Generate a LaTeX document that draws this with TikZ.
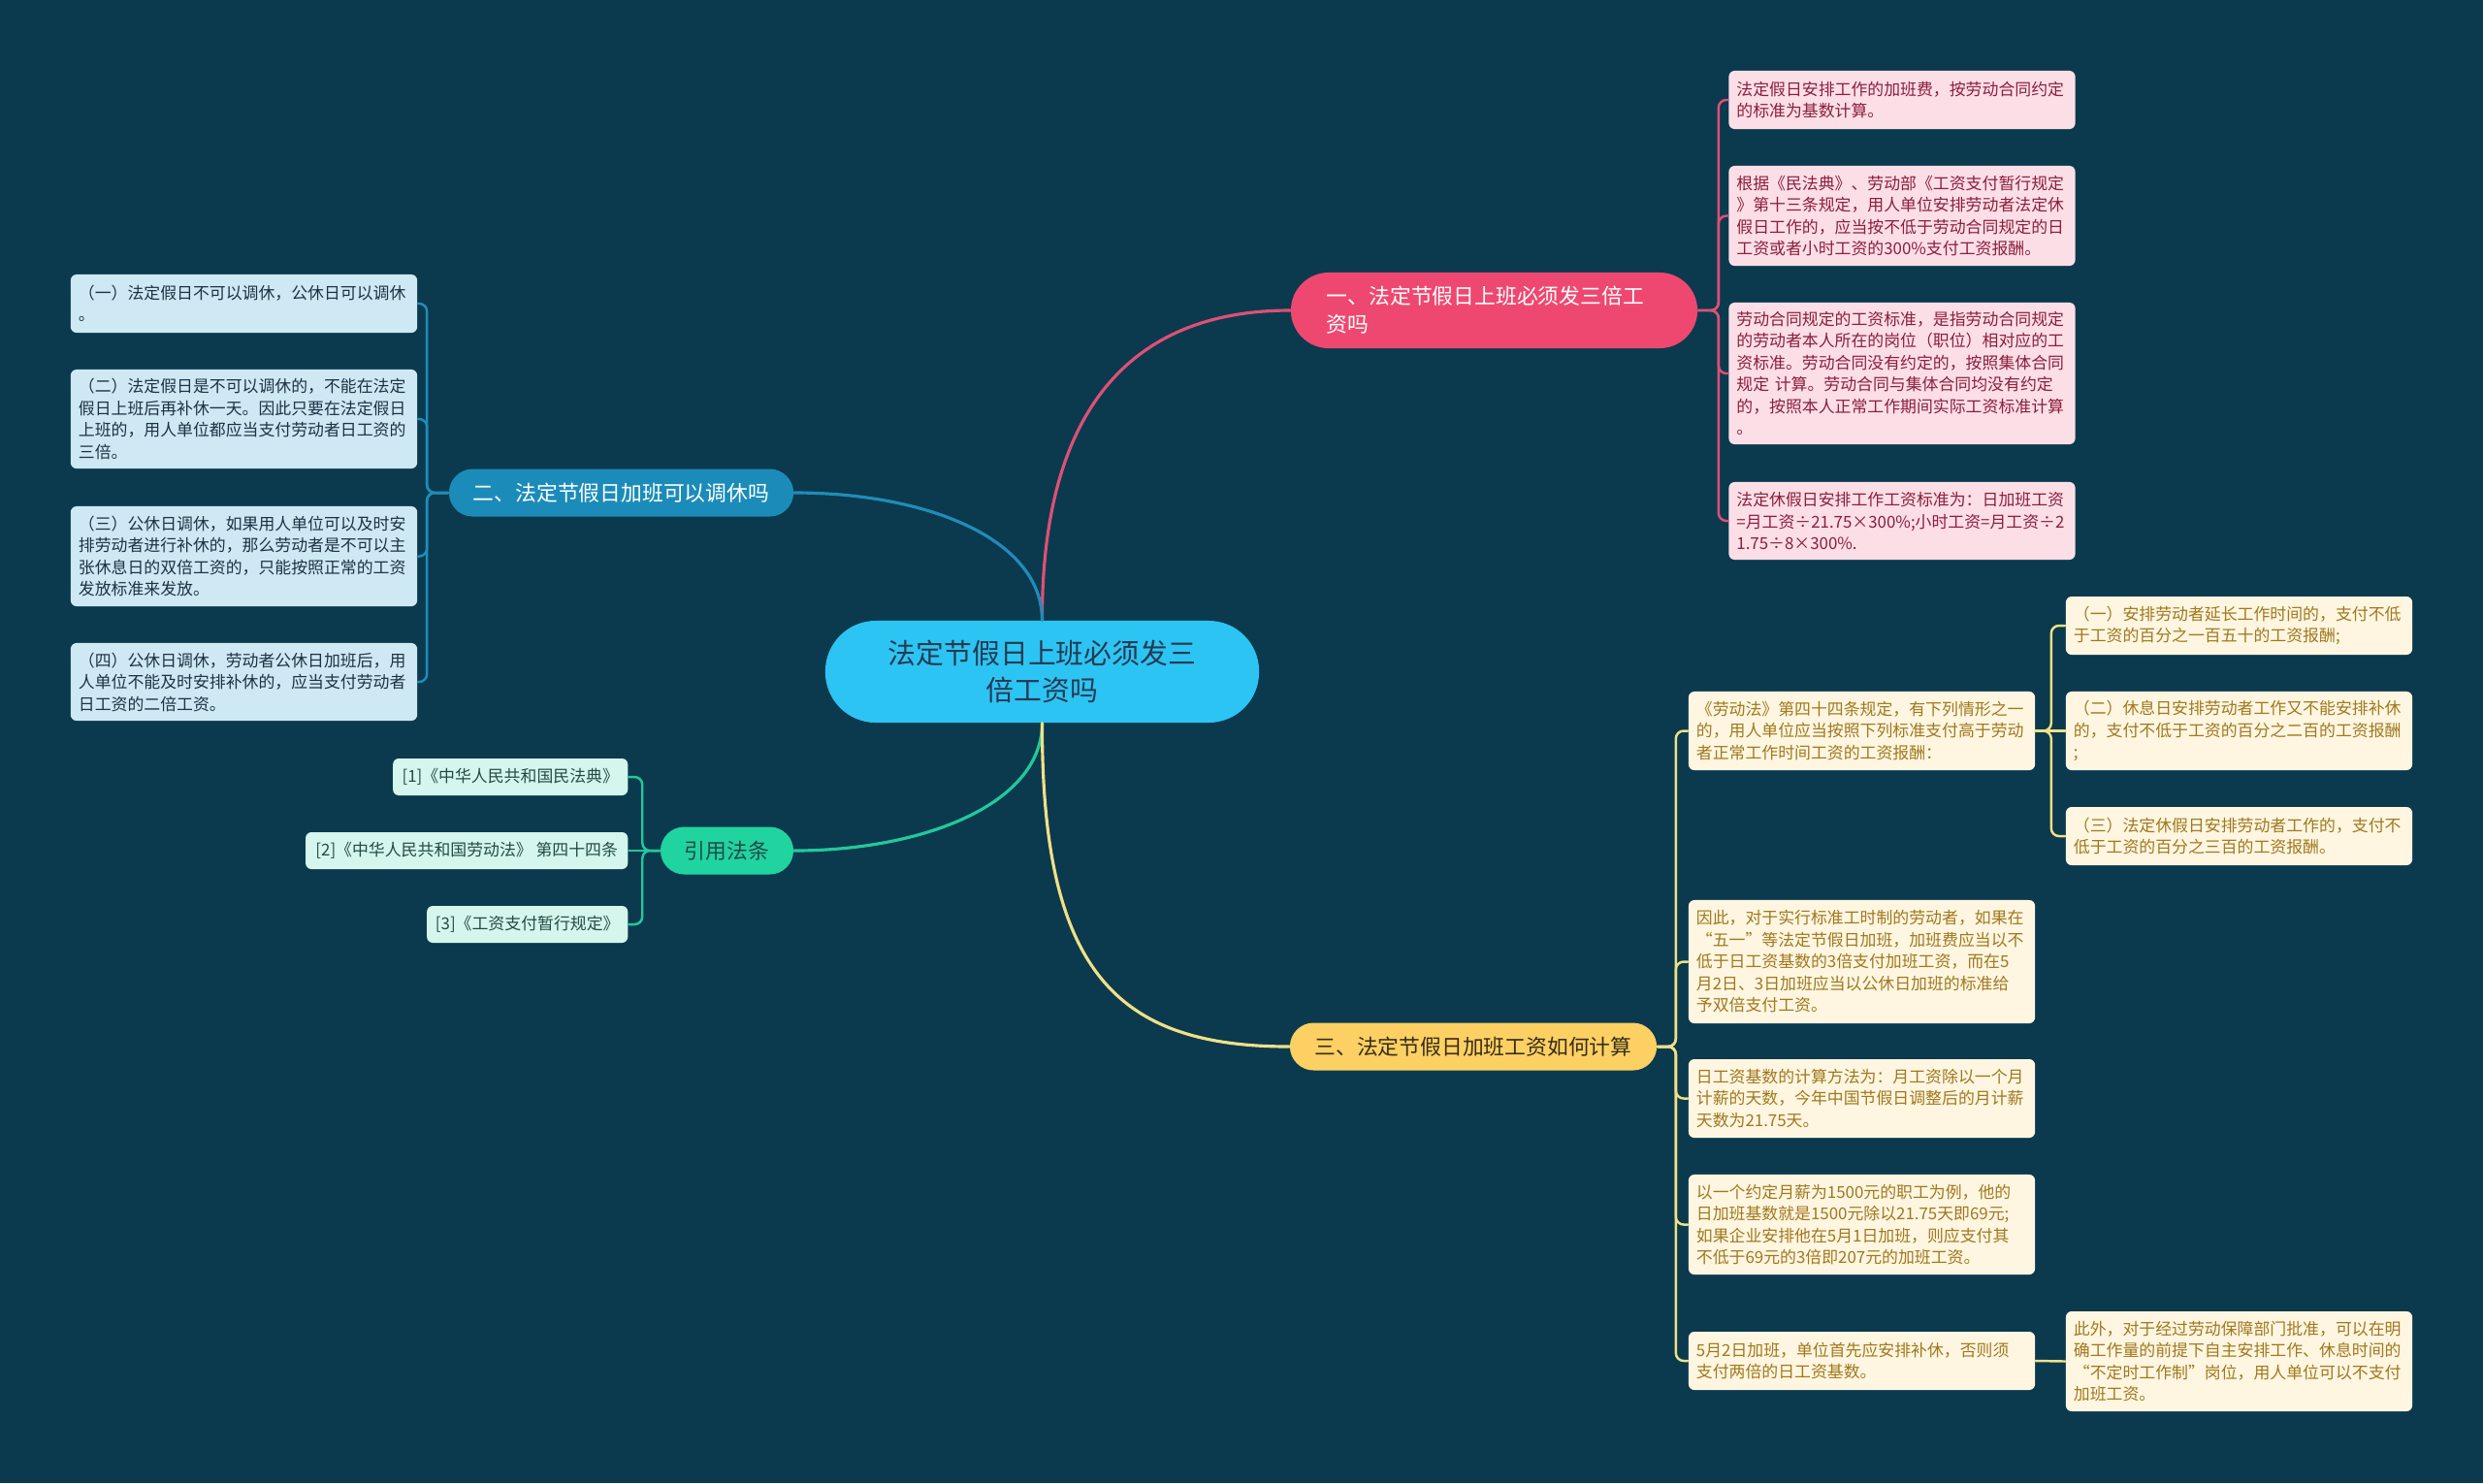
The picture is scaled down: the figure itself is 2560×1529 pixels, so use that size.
\documentclass[tikz,border=0pt]{standalone}
\usepackage{fontspec}
\setmainfont{Noto Sans CJK SC}
\definecolor{nen}{RGB}{11,58,78}
\definecolor{goc}{RGB}{44,196,243}
\definecolor{chugoc}{RGB}{38,58,82}
\definecolor{hong}{RGB}{239,72,112}
\definecolor{honglt}{RGB}{252,223,230}
\definecolor{chuhong}{RGB}{140,30,60}
\definecolor{duonghong}{RGB}{222,80,118}
\definecolor{lam}{RGB}{27,140,185}
\definecolor{lamlt}{RGB}{206,233,243}
\definecolor{chulam}{RGB}{30,50,70}
\definecolor{duonglam}{RGB}{32,140,185}
\definecolor{xanh}{RGB}{32,212,160}
\definecolor{xanhlt}{RGB}{212,246,236}
\definecolor{chuxanh}{RGB}{35,75,70}
\definecolor{duongxanh}{RGB}{35,200,155}
\definecolor{vang}{RGB}{252,208,98}
\definecolor{vanglt}{RGB}{254,246,225}
\definecolor{chuvang}{RGB}{160,120,30}
\definecolor{chusan}{RGB}{55,45,25}
\definecolor{duongvang}{RGB}{240,224,135}
\begin{document}
\begin{tikzpicture}[x=0.01cm,y=-0.01cm,line join=round,line cap=round,
	zhu/.style={fill=goc,text=chugoc,rounded corners=0.52cm,minimum width=4.47cm,minimum height=1.05cm,inner sep=0pt,align=center,font=\chulon},
	zhi/.style={rounded corners=0.245cm,minimum height=0.49cm,inner sep=0pt,font=\chuvua},
	ye/.style={rounded corners=0.06cm,text width=3.41cm,inner xsep=0.08cm,inner ysep=0.03cm,align=left,font=\chunho},
	yinye/.style={fill=xanhlt,text=chuxanh,rounded corners=0.06cm,minimum height=0.38cm,inner sep=0pt,font=\chunho},
	xian/.style={line width=0.9pt},
	xi/.style={line width=0.7pt,rounded corners=0.08cm}]
	\def\chulon{\fontsize{8.2}{11}\selectfont} % chữ gốc
	\def\chuvua{\fontsize{6.2}{8.3}\selectfont} % chữ nhánh
	\def\chunho{\fontsize{4.8}{6.4}\selectfont} % chữ lá
	\fill[nen] (0,0) rectangle (2560,1529);
	\useasboundingbox (0,0) rectangle (2560,1529);
	\path 
	(1074.5,692.5) node[zhu] (zhuti) {法定节假日上班必须发三\\倍工资吗}
	(1540.5,320) node[zhi,fill=hong,text=white,minimum width=4.19cm,minimum height=0.78cm,rounded corners=0.39cm,text width=3.45cm,inner xsep=0.37cm,align=left] (yi) {一、法定节假日上班必须发三倍工\\资吗}
	(640.5,508) node[zhi,fill=lam,text=white,minimum width=3.55cm] (er) {二、法定节假日加班可以调休吗}
	(749.5,877) node[zhi,fill=xanh,text=chuxanh,minimum width=1.37cm] (yinyong) {引用法条}
	(1519,1079) node[zhi,fill=vang,text=chusan,minimum width=3.78cm] (san) {三、法定节假日加班工资如何计算}
	;
	% nhánh một
	\path 
	(1961,103) node[ye,fill=honglt,text=chuhong,minimum height=0.6cm] (yi1) {法定假日安排工作的加班费，按劳动合同约定\\的标准为基数计算。}
	(1961,222.5) node[ye,fill=honglt,text=chuhong,minimum height=1.03cm] (yi2) {根据《民法典》、劳动部《工资支付暂行规定\\》第十三条规定，用人单位安排劳动者法定休\\假日工作的，应当按不低于劳动合同规定的日\\工资或者小时工资的300\%支付工资报酬。}
	(1961,385) node[ye,fill=honglt,text=chuhong,minimum height=1.46cm] (yi3) {劳动合同规定的工资标准，是指劳动合同规定\\的劳动者本人所在的岗位（职位）相对应的工\\资标准。劳动合同没有约定的，按照集体合同\\规定 计算。劳动合同与集体合同均没有约定\\的，按照本人正常工作期间实际工资标准计算\\。}
	(1961,537) node[ye,fill=honglt,text=chuhong,minimum height=0.8cm] (yi4) {法定休假日安排工作工资标准为：日加班工资\\=月工资÷21.75×300\%;小时工资=月工资÷2\\1.75÷8×300\%.}
	;
	% nhánh hai
	\path 
	(251.5,313) node[ye,fill=lamlt,text=chulam,minimum height=0.6cm] (er1) {（一）法定假日不可以调休，公休日可以调休\\。}
	(251.5,432) node[ye,fill=lamlt,text=chulam,minimum height=1.02cm] (er2) {（二）法定假日是不可以调休的，不能在法定\\假日上班后再补休一天。因此只要在法定假日\\上班的，用人单位都应当支付劳动者日工资的\\三倍。}
	(251.5,573.5) node[ye,fill=lamlt,text=chulam,minimum height=1.03cm] (er3) {（三）公休日调休，如果用人单位可以及时安\\排劳动者进行补休的，那么劳动者是不可以主\\张休息日的双倍工资的，只能按照正常的工资\\发放标准来发放。}
	(251.5,703) node[ye,fill=lamlt,text=chulam,minimum height=0.8cm] (er4) {（四）公休日调休，劳动者公休日加班后，用\\人单位不能及时安排补休的，应当支付劳动者\\日工资的二倍工资。}
	;
	% trích dẫn
	\path 
	(648,801) node[yinye,anchor=east,minimum width=2.42cm] (yy1) {[1]《中华人民共和国民法典》}
	(648,877) node[yinye,anchor=east,minimum width=3.32cm] (yy2) {[2]《中华人民共和国劳动法》 第四十四条}
	(648,953) node[yinye,anchor=east,minimum width=2.07cm] (yy3) {[3]《工资支付暂行规定》}
	;
	% nhánh ba
	\path 
	(1919.5,753.5) node[ye,fill=vanglt,text=chuvang,minimum height=0.81cm] (san1) {《劳动法》第四十四条规定，有下列情形之一\\的，用人单位应当按照下列标准支付高于劳动\\者正常工作时间工资的工资报酬：}
	(1919.5,991.5) node[ye,fill=vanglt,text=chuvang,minimum height=1.27cm] (san2) {因此，对于实行标准工时制的劳动者，如果在\\“五一”等法定节假日加班，加班费应当以不\\低于日工资基数的3倍支付加班工资，而在5\\月2日、3日加班应当以公休日加班的标准给\\予双倍支付工资。}
	(1919.5,1132.5) node[ye,fill=vanglt,text=chuvang,minimum height=0.81cm] (san3) {日工资基数的计算方法为：月工资除以一个月\\计薪的天数，今年中国节假日调整后的月计薪\\天数为21.75天。}
	(1919.5,1262.5) node[ye,fill=vanglt,text=chuvang,minimum height=1.03cm] (san4) {以一个约定月薪为1500元的职工为例，他的\\日加班基数就是1500元除以21.75天即69元;\\如果企业安排他在5月1日加班，则应支付其\\不低于69元的3倍即207元的加班工资。}
	(1919.5,1403) node[ye,fill=vanglt,text=chuvang,minimum height=0.6cm] (san5) {5月2日加班，单位首先应安排补休，否则须\\支付两倍的日工资基数。}
	(2308.5,645) node[ye,fill=vanglt,text=chuvang,minimum height=0.6cm] (san1a) {（一）安排劳动者延长工作时间的，支付不低\\于工资的百分之一百五十的工资报酬;}
	(2308.5,753.5) node[ye,fill=vanglt,text=chuvang,minimum height=0.81cm] (san1b) {（二）休息日安排劳动者工作又不能安排补休\\的，支付不低于工资的百分之二百的工资报酬\\;}
	(2308.5,862) node[ye,fill=vanglt,text=chuvang,minimum height=0.6cm] (san1c) {（三）法定休假日安排劳动者工作的，支付不\\低于工资的百分之三百的工资报酬。}
	(2308.5,1403.5) node[ye,fill=vanglt,text=chuvang,minimum height=1.03cm] (san5a) {此外，对于经过劳动保障部门批准，可以在明\\确工作量的前提下自主安排工作、休息时间的\\“不定时工作制”岗位，用人单位可以不支付\\加班工资。}
	;
	% đường nối gốc
	\draw[xian,duonghong] (zhuti.north) .. controls (1074,430) and (1160,320) .. (yi.west);
	\draw[xian,duonglam] (zhuti.north) .. controls (1074,555) and (955,508) .. (er.east);
	\draw[xian,duongxanh] (zhuti.south) .. controls (1074,830) and (950,877) .. (yinyong.east);
	\draw[xian,duongvang] (zhuti.south) .. controls (1074,1000) and (1150,1079) .. (san.west);
	% đường nối lá
	\draw[xi,duonghong] (yi.east)--++(21,0)|-(yi1.west);
	\draw[xi,duonghong] (yi.east)--++(21,0)|-(yi2.west);
	\draw[xi,duonghong] (yi.east)--++(21,0)|-(yi3.west);
	\draw[xi,duonghong] (yi.east)--++(21,0)|-(yi4.west);
	\draw[xi,duonglam] (er.west)--++(-22,0)|-(er1.east);
	\draw[xi,duonglam] (er.west)--++(-22,0)|-(er2.east);
	\draw[xi,duonglam] (er.west)--++(-22,0)|-(er3.east);
	\draw[xi,duonglam] (er.west)--++(-22,0)|-(er4.east);
	\draw[xi,duongxanh] (yinyong.west)--++(-18,0)|-(yy1.east);
	\draw[xi,duongxanh] (yinyong.west)--(yy2.east);
	\draw[xi,duongxanh] (yinyong.west)--++(-18,0)|-(yy3.east);
	\draw[xi,duongvang] (san.east)--++(19,0)|-(san1.west);
	\draw[xi,duongvang] (san.east)--++(19,0)|-(san2.west);
	\draw[xi,duongvang] (san.east)--++(19,0)|-(san3.west);
	\draw[xi,duongvang] (san.east)--++(19,0)|-(san4.west);
	\draw[xi,duongvang] (san.east)--++(19,0)|-(san5.west);
	\draw[xi,duongvang] (san1.east)--++(16,0)|-(san1a.west);
	\draw[xi,duongvang] (san1.east)--(san1b.west);
	\draw[xi,duongvang] (san1.east)--++(16,0)|-(san1c.west);
	\draw[xi,duongvang] (san5.east)--(san5a.west);
\end{tikzpicture}
\end{document}
